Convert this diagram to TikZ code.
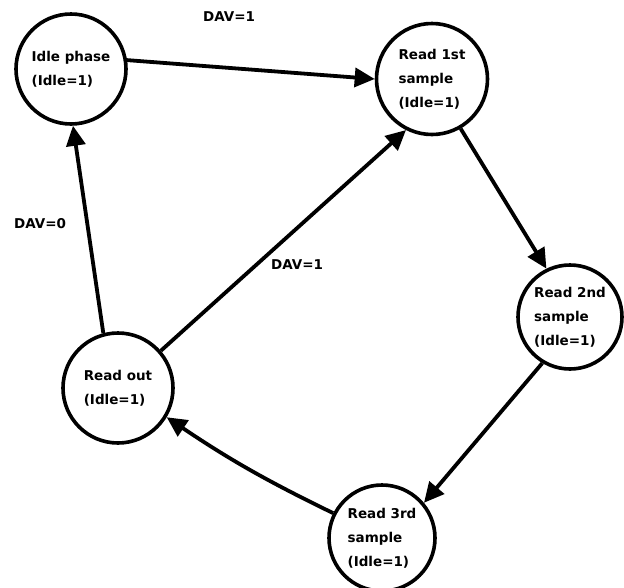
\documentclass[tikz,border=0pt]{standalone}
\usepackage{fontspec}
\setmainfont{DejaVu Sans}
\usetikzlibrary{arrows.meta}
\begin{document}
\begin{tikzpicture}[x=1pt,y=-1pt,
  state/.style={circle,draw,line width=3.6pt,minimum size=#1,inner sep=0pt,align=left,
    font=\bfseries\fontsize{13.5}{24}\selectfont},
  trans/.style={line width=3.8pt,-{Triangle[length=20pt,width=19pt]}},
  lbl/.style={font=\bfseries\fontsize{13.5}{16}\selectfont}]
\useasboundingbox (0,0) rectangle (624,587);
\node[state=110pt] (idle) at (71,69) {Idle phase\\(Idle=1)};
\node[state=111pt] (r1) at (432,79) {Read 1st\\sample\\(Idle=1)};
\node[state=104pt] (r2) at (570,317) {Read 2nd\\sample\\(Idle=1)};
\node[state=106pt] (r3) at (382,538) {Read 3rd\\sample\\(Idle=1)};
\node[state=110pt] (ro) at (118,388) {Read out\\(Idle=1)};
\draw[trans] (idle.9) -- (r1.180);
\draw[trans] (r1.-60) -- (r2.116);
\draw[trans] (r2.-121) -- (r3.40);
\draw[trans] (r3.153) to[bend left=4] (ro.-31);
\draw[trans] (ro.105) -- (idle.-88);
\draw[trans] (ro.41) -- (r1.-117);
\node[lbl] (l1) at (229,17) {DAV=1};
\node[lbl] (l2) at (40,224) {DAV=0};
\node[lbl] (l3) at (297,265) {DAV=1};
\end{tikzpicture}
\end{document}
